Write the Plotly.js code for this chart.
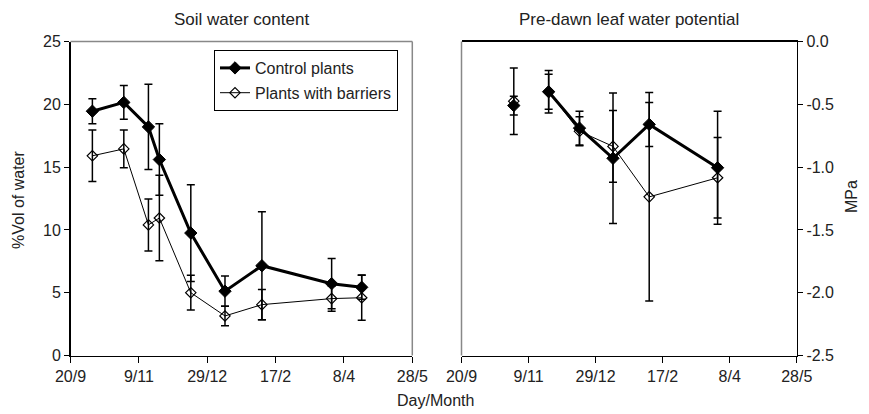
<!DOCTYPE html>
<html>
<head>
<meta charset="utf-8">
<script src="https://cdn.plot.ly/plotly-3.0.1.min.js"></script>
<style>html,body{margin:0;padding:0;background:#fff;}#chart{width:869px;height:414px;}</style>
</head>
<body>
<div id="chart"></div>
<script>
// ---- data ----
const xTickVals = ['2002-09-20','2002-11-09','2002-12-29','2003-02-17','2003-04-08','2003-05-28'];
const xTickText = ['20/9','9/11','29/12','17/2','8/4','28/5'];

const soilDates = ['2002-10-06','2002-10-29','2002-11-16','2002-11-24','2002-12-17','2003-01-11','2003-02-07','2003-03-30','2003-04-21'];
const soilControl = [19.45, 20.15, 18.2, 15.6, 9.75, 5.12, 7.15, 5.72, 5.43];
const soilControlErr = [1.0, 1.35, 3.4, 2.85, 3.85, 1.2, 4.3, 2.0, 0.95];
const soilBarrier = [15.9, 16.45, 10.4, 10.95, 5.0, 3.15, 4.05, 4.53, 4.6];
const soilBarrierErr = [2.05, 1.5, 2.07, 3.4, 1.38, 0.78, 1.2, 1.0, 1.8];

const psiDates = ['2002-10-29','2002-11-24','2002-12-17','2003-01-11','2003-02-07','2003-03-30'];
const psiControl = [-0.51, -0.40, -0.69, -0.93, -0.66, -1.005];
const psiControlErr = [0.075, 0.14, 0.135, 0.52, 0.175, 0.45];
const psiBarrier = [-0.475, -0.40, -0.715, -0.835, -1.237, -1.085];
const psiBarrierErr = [0.265, 0.17, 0.115, 0.285, 0.83, 0.32];

const soilTickVals = [0, 5, 10, 15, 20, 25];
const psiTickVals = [0, -0.5, -1.0, -1.5, -2.0, -2.5];
const psiTickText = ['0.0', '-0.5', '-1.0', '-1.5', '-2.0', '-2.5'];

const seriesNames = ['Control plants', 'Plants with barriers'];
const titles = ['Soil water content', 'Pre-dawn leaf water potential', '%Vol of water', 'MPa', 'Day/Month'];

// ---- styles ----
const FONT = 'Liberation Sans, Arial, Helvetica, sans-serif';
const TXT = '#222';
const ctrlStyle = {
  line: {color: '#000', width: 3},
  marker: {symbol: 'diamond', size: 9.5, color: '#000', line: {color: '#000', width: 1}}
};
const barStyle = {
  line: {color: '#000', width: 1},
  marker: {symbol: 'diamond-open', size: 8, color: '#000', line: {color: '#000', width: 1.2}}
};
function err(arr) { return {type: 'data', array: arr, visible: true, color: '#000', thickness: 1.5, width: 4}; }

const traces = [];
// left panel (these two carry the legend)
traces.push(Object.assign({
  x: soilDates, y: soilControl, error_y: err(soilControlErr), mode: 'lines+markers',
  name: seriesNames[0], legendgroup: 'ctrl', xaxis: 'x', yaxis: 'y'
}, ctrlStyle));
traces.push(Object.assign({
  x: soilDates, y: soilBarrier, error_y: err(soilBarrierErr), mode: 'lines+markers',
  name: seriesNames[1], legendgroup: 'bar', xaxis: 'x', yaxis: 'y'
}, barStyle));
// right panel: first sample isolated, rest connected; barriers beneath control
traces.push(Object.assign({
  x: psiDates.slice(0, 1), y: psiBarrier.slice(0, 1), error_y: err(psiBarrierErr.slice(0, 1)), mode: 'markers',
  name: seriesNames[1], legendgroup: 'bar', showlegend: false, xaxis: 'x2', yaxis: 'y2'
}, barStyle));
traces.push(Object.assign({
  x: psiDates.slice(1), y: psiBarrier.slice(1), error_y: err(psiBarrierErr.slice(1)), mode: 'lines+markers',
  name: seriesNames[1], legendgroup: 'bar', showlegend: false, xaxis: 'x2', yaxis: 'y2'
}, barStyle));
traces.push(Object.assign({
  x: psiDates.slice(0, 1), y: psiControl.slice(0, 1), error_y: err(psiControlErr.slice(0, 1)), mode: 'markers',
  name: seriesNames[0], legendgroup: 'ctrl', showlegend: false, xaxis: 'x2', yaxis: 'y2'
}, ctrlStyle));
traces.push(Object.assign({
  x: psiDates.slice(1), y: psiControl.slice(1), error_y: err(psiControlErr.slice(1)), mode: 'lines+markers',
  name: seriesNames[0], legendgroup: 'ctrl', showlegend: false, xaxis: 'x2', yaxis: 'y2'
}, ctrlStyle));

const W = 869, H = 414;
const yDom = [(H - 355.5) / H, (H - 41.5) / H];
const axFont = {family: FONT, size: 16, color: TXT};
const xCommon = {
  type: 'date', range: [xTickVals[0], xTickVals[xTickVals.length - 1]],
  tickmode: 'array', tickvals: xTickVals, ticktext: xTickText,
  ticks: 'outside', ticklen: 6, tickwidth: 1, tickcolor: '#000',
  showline: true, linecolor: '#000', linewidth: 1.5, showgrid: false, zeroline: false,
  tickfont: axFont, fixedrange: true
};

const layout = {
  width: W, height: H,
  margin: {l: 0, r: 0, t: 0, b: 0},
  paper_bgcolor: '#fff', plot_bgcolor: '#fff',
  font: {family: FONT, size: 15, color: TXT},
  showlegend: true,
  legend: {
    x: 214 / W, y: (H - 50) / H, xanchor: 'left', yanchor: 'top',
    bgcolor: '#fff', bordercolor: '#000', borderwidth: 1,
    font: {family: FONT, size: 16, color: TXT}, traceorder: 'grouped', tracegroupgap: 1
  },
  xaxis: Object.assign({}, xCommon, {domain: [70.5 / W, 412.3 / W], anchor: 'y'}),
  yaxis: {
    domain: yDom, anchor: 'x', range: [0, 25], tickmode: 'array', tickvals: soilTickVals,
    ticks: 'outside', ticklen: 5, tickcolor: '#000', showline: true, linecolor: '#000', linewidth: 1.5,
    showgrid: false, zeroline: false, tickfont: axFont, fixedrange: true
  },
  xaxis2: Object.assign({}, xCommon, {domain: [461.5 / W, 796.7 / W], anchor: 'y2', mirror: true}),
  yaxis2: {
    domain: yDom, anchor: 'x2', side: 'right', range: [-2.5, 0], tickmode: 'array',
    tickvals: psiTickVals, ticktext: psiTickText,
    ticks: 'outside', ticklen: 5, tickcolor: '#000', showline: true, linecolor: '#000', linewidth: 1.5,
    showgrid: false, zeroline: false, tickfont: axFont, fixedrange: true
  },
  shapes: [
    {type: 'line', xref: 'x domain', yref: 'y domain', x0: 0, x1: 1, y0: 1, y1: 1, line: {color: '#888', width: 1.5}},
    {type: 'line', xref: 'x domain', yref: 'y domain', x0: 1, x1: 1, y0: 0, y1: 1, line: {color: '#888', width: 1.5}},
    {type: 'line', xref: 'x2 domain', yref: 'y2 domain', x0: 0, x1: 0, y0: 0, y1: 1, line: {color: '#888', width: 1.5}}
  ],
  annotations: [
    {text: titles[0], xref: 'x domain', yref: 'paper', x: 0.5, y: (H - 20) / H, xanchor: 'center', yanchor: 'middle', showarrow: false, font: {family: FONT, size: 17, color: TXT}},
    {text: titles[1], xref: 'x2 domain', yref: 'paper', x: 0.5, y: (H - 20) / H, xanchor: 'center', yanchor: 'middle', showarrow: false, font: {family: FONT, size: 17, color: TXT}},
    {text: titles[2], xref: 'paper', yref: 'paper', x: 18 / W, y: (H - 200) / H, xanchor: 'center', yanchor: 'middle', textangle: -90, showarrow: false, font: {family: FONT, size: 16, color: TXT}},
    {text: titles[3], xref: 'paper', yref: 'paper', x: 851 / W, y: (H - 197) / H, xanchor: 'center', yanchor: 'middle', textangle: -90, showarrow: false, font: {family: FONT, size: 16, color: TXT}},
    {text: titles[4], xref: 'paper', yref: 'paper', x: 435 / W, y: (H - 400) / H, xanchor: 'center', yanchor: 'middle', showarrow: false, font: {family: FONT, size: 16, color: TXT}}
  ]
};

Plotly.newPlot('chart', traces, layout, {staticPlot: true, displayModeBar: false});
</script>
</body>
</html>
